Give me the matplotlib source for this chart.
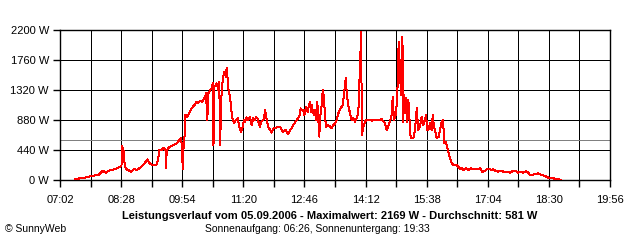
import matplotlib
matplotlib.use("Agg")
import matplotlib.pyplot as plt
import numpy as np

plt.rcParams['font.family'] = ['Liberation Sans', 'DejaVu Sans']

# time in minutes since midnight, power in W
minutes = [443.5, 450.1, 459.6, 466.6, 475.9, 482.1, 486.3, 492.4, 499.4, 506.4,
           508.5, 509.3, 510.2, 511.1, 512.5, 514.5, 518.1, 521.9, 526.1, 530.8,
           534.6, 539.2, 544.9, 548.7, 553.3, 558.1, 560.3, 561.7, 565.1, 567.4,
           570.5, 571.2, 572.2,
           576.8, 581.4, 586.2, 589.9, 592.3, 593.7, 594.7, 595.8, 596.9, 597.9,
           599.3, 601.1, 602.6, 605.0, 607.3, 609.6, 612.0, 614.4, 616.6, 619.0,
           621.4, 623.7, 626.1, 627.5, 629.3, 630.7, 632.1, 634.1, 635.5, 636.9,
           638.0, 639.1, 641.5, 642.5, 644.8, 646.2, 647.2, 649.6, 651.8, 653.2,
           655.2, 656.6, 658.0, 659.4, 661.2, 662.6, 664.5, 666.9, 669.3, 672.1,
           674.3, 676.7, 679.1, 680.9, 682.3, 684.7, 687.0, 689.4, 691.8, 694.0,
           696.4, 697.8, 699.7, 702.0, 703.5, 704.9, 707.3, 709.1, 710.5, 712.9,
           715.1, 717.5, 719.9, 722.2, 726.0, 727.8, 731.6, 734.0, 736.2, 739.6,
           743.3, 745.7, 748.1, 750.3, 755.1, 758.8, 760.7, 762.1, 764.4, 765.8,
           768.2, 770.6, 772.4, 773.8, 775.2, 776.2, 777.6, 779.4, 780.9, 782.3,
           784.1, 785.5, 786.9, 787.9, 790.3, 791.7, 793.5, 794.9, 796.3, 799.6,
           802.0, 804.4, 806.6, 809.0, 811.4, 813.6, 817.0, 819.8, 822.1, 824.1,
           825.5, 827.7, 830.1, 832.5, 834.8, 837.1, 839.5, 841.8, 843.2, 844.2,
           845.6, 847.0, 848.8, 851.2, 853.6, 858.3,
           860.6, 865.3, 869.9, 874.7, 879.4,
           881.8, 885.4, 888.8, 890.2, 892.0, 894.8, 896.7, 898.6, 899.5, 900.5,
           901.5, 902.3, 903.3, 904.3, 905.1, 906.1, 907.5, 908.9, 910.7, 912.2,
           913.6, 915.5, 919.2, 921.6, 924.0, 926.2, 928.6, 931.0, 933.3, 935.7,
           937.1, 938.9, 940.3, 942.7, 945.1, 946.5, 948.3, 949.7, 952.1, 954.9,
           957.7, 959.2, 960.6, 961.4, 962.8, 964.8, 966.2, 968.4, 970.8, 973.2,
           975.5, 980.3, 982.5, 984.9, 987.3, 989.6, 993.4, 996.6, 1000.0, 1003.6,
           1007.4, 1010.7, 1013.1, 1016.3, 1020.1, 1022.5, 1026.1, 1029.5, 1031.8, 1035.6,
           1038.8, 1041.2, 1043.6, 1045.8, 1050.6, 1055.3, 1059.9, 1063.7, 1067.0, 1070.3,
           1074.0, 1077.8, 1081.0, 1083.4, 1087.2, 1090.5, 1095.1, 1099.9, 1104.5, 1107.8,
           1111.6, 1116.2, 1121.0, 1127.0]
watts = [10, 25, 40, 60, 73, 136, 107, 147, 157, 195,
         200, 498, 420, 470, 268, 161, 147, 122, 157, 150,
         180, 220, 303, 235, 220, 225, 318, 440, 440, 470,
         440, 170, 440,
         489, 513, 538, 587, 611, 489, 157, 470, 490, 953,
         953, 920, 953, 1000, 1051, 1085, 1110, 1149, 1133, 1165,
         1149, 1173, 1222, 1271, 880, 1271, 1295, 1330, 1345, 1418,
         513, 1369, 1393, 1418, 1320, 1442, 513, 1345, 1516, 1590,
         1516, 1638, 1467, 1295, 1222, 1075, 905, 831, 880, 905,
         782, 709, 782, 880, 855, 918, 880, 929, 806, 905,
         880, 929, 905, 831, 782, 855, 880, 890, 1027, 880,
         782, 733, 696, 758, 758, 782, 782, 733, 709, 733,
         670, 733, 758, 806, 880, 929, 1051, 1027, 1027, 953,
         1075, 1000, 1100, 1149, 1000, 1100, 1027, 953, 1027, 880,
         1149, 880, 636, 905, 1100, 1320, 1222, 929, 782, 806,
         782, 758, 806, 831, 880, 977, 1051, 1100, 1295, 1491,
         1271, 1100, 977, 880, 905, 855, 905, 977, 1418, 1623,
         2169, 660, 782, 855, 880, 880,
         870, 880, 880, 890, 831,
         733, 831, 953, 1222, 880, 977, 1247, 2030, 1700, 1760,
         1247, 1660, 2102, 1907, 855, 1247, 977, 1197, 855, 1173,
         929, 611, 611, 733, 1051, 733, 782, 929, 806, 880,
         953, 733, 733, 831, 733, 953, 782, 733, 611, 636,
         782, 855, 880, 807, 538, 562, 513, 415, 318, 244,
         220, 220, 195, 157, 180, 147, 170, 147, 170, 157,
         160, 157, 170, 122, 130, 157, 160, 147, 157, 130,
         122, 136, 136, 122, 122, 108, 136, 130, 108, 122,
         108, 130, 108, 73, 73, 88, 98, 73, 59, 40,
         25, 25, 10, 5]

average_w = 581
y_ticks = [0, 440, 880, 1320, 1760, 2200]
x_tick_labels = ["07:02", "08:28", "09:54", "11:20", "12:46",
                 "14:12", "15:38", "17:04", "18:30", "19:56"]
title = "Leistungsverlauf vom 05.09.2006 - Maximalwert: 2169 W - Durchschnitt: 581 W"
subtitle = "Sonnenaufgang: 06:26, Sonnenuntergang: 19:33"

def to_min(s):
    h, m = s.split(":")
    return int(h) * 60 + int(m)

x_major = [to_min(s) for s in x_tick_labels]
x_minor = [(a + b) / 2 for a, b in zip(x_major[:-1], x_major[1:])]

LW = 0.72  # one pixel at 100 dpi

fig = plt.figure(figsize=(6.4, 2.4), dpi=100)
ax = fig.add_axes([60 / 640, 60 / 240, 550 / 640, 150 / 240])
ax.set_xlim(x_major[0], x_major[-1])
ax.set_ylim(0, 2200)

for xv in x_major + x_minor:
    ax.axvline(xv, color='black', lw=LW, zorder=1, antialiased=False)
for yv in y_ticks:
    ax.axhline(yv, color='black', lw=LW, zorder=1, antialiased=False)
ax.axhline(average_w, color='#808080', lw=LW, zorder=2, antialiased=False)

ax.plot(minutes, watts, color='#ff0000', lw=LW, zorder=3, antialiased=False)

ax.set_yticks(y_ticks)
ax.set_yticklabels([f"{v} W" for v in y_ticks], fontsize=8)
ax.set_xticks(x_major)
ax.set_xticklabels(x_tick_labels, fontsize=8)
ax.set_xticks(x_minor, minor=True)
ax.tick_params(axis='x', which='both', direction='out', length=5, width=1, color='black', pad=6)
ax.tick_params(axis='y', direction='out', length=5, width=1, color='black', pad=3)
for sp in ax.spines.values():
    sp.set_linewidth(1.0)
    sp.set_color('black')

fig.text(330 / 640, 1 - 216 / 240, title, ha='center', va='center', fontsize=8, fontweight='bold')
fig.text(317 / 640, 1 - 228.5 / 240, subtitle, ha='center', va='center', fontsize=7.5)
fig.text(5 / 640, 1 - 228.5 / 240, "© SunnyWeb", ha='left', va='center', fontsize=7.5)

fig.savefig("out.png", dpi=100, facecolor='white')
